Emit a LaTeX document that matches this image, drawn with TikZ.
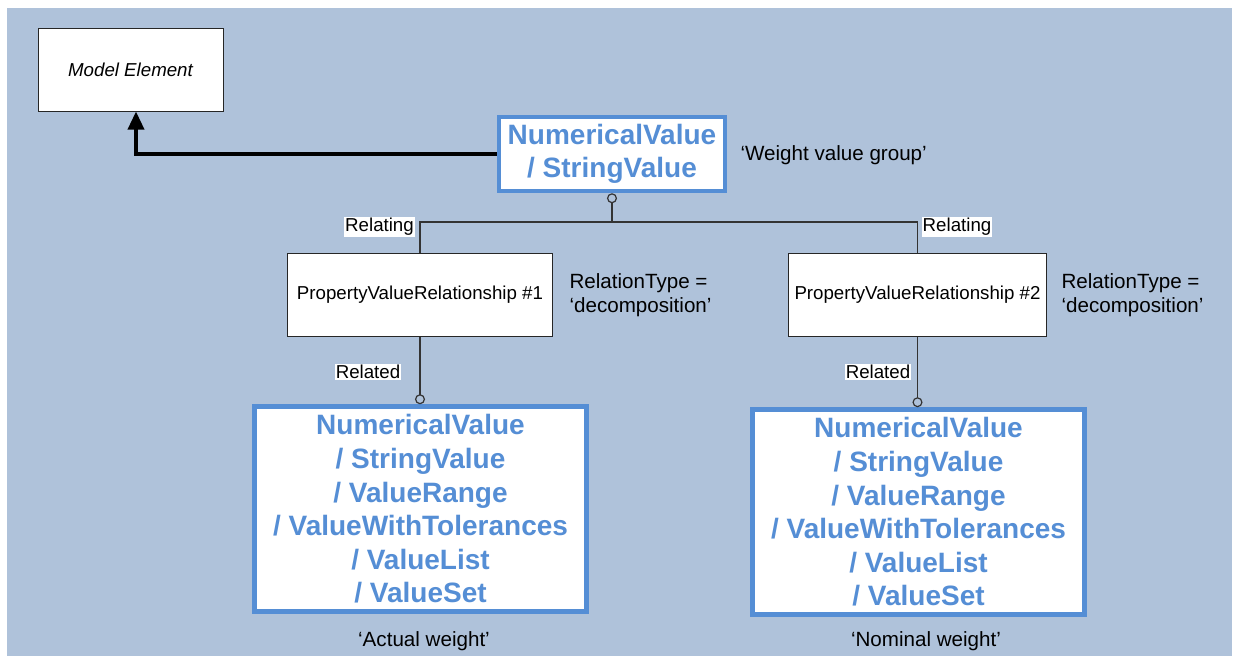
\documentclass[tikz,border=0pt]{standalone}
\usepackage{fontspec}
\setmainfont{Liberation Sans}
\usepackage{xcolor}
\usepackage{tikz}
\usetikzlibrary{positioning, arrows.meta, calc}
\definecolor{panelblue}{HTML}{AFC2DA}
\definecolor{ifcblue}{HTML}{558ED5}
\tikzset{
  plainbox/.style={draw=black!85, fill=white, line width=1pt, font=\fontsize{18.7}{22}\selectfont},
  valuebox/.style={draw=ifcblue, fill=white, line width=4.5pt, text=ifcblue, align=center,
                   font=\fontsize{28}{33.6}\selectfont\bfseries},
  rolelabel/.style={fill=white, inner sep=1pt, font=\fontsize{18.7}{22}\selectfont},
  note/.style={font=\fontsize{20.6}{24}\selectfont},
  conn/.style={draw=black!80, line width=1.2pt},
}

\begin{document}
\begin{tikzpicture}[x=1pt, y=-1pt]
    \useasboundingbox (0,0) rectangle (1233,659);
    \fill[panelblue] (7,8) rectangle (1232,656);

    % boxes
    \node[plainbox, minimum width=185pt, minimum height=83pt] (model) at (130.5,69.5) {\itshape Model Element};
    \node[valuebox, minimum width=226pt, minimum height=74pt] (group) at (612,154) {NumericalValue\\/ StringValue};
    \node[plainbox, minimum width=265pt, minimum height=83pt] (pvr1) at (420,295) {PropertyValueRelationship \#1};
    \node[plainbox, minimum width=258pt, minimum height=83pt] (pvr2) at (917.5,295) {PropertyValueRelationship \#2};
    \node[valuebox, minimum width=332pt, minimum height=205pt] (actual) at (420.5,509) {%
      NumericalValue\\/ StringValue\\/ ValueRange\\/ ValueWithTolerances\\/ ValueList\\/ ValueSet};
    \node[valuebox, minimum width=332pt, minimum height=205pt] (nominal) at (918.5,512) {%
      NumericalValue\\/ StringValue\\/ ValueRange\\/ ValueWithTolerances\\/ ValueList\\/ ValueSet};

    % notes
    \node[note, anchor=west] (grouplbl) at (737,155) {‘Weight value group’};
    \node[note, anchor=west, align=left] (type1) at (566,295) {RelationType =\\‘decomposition’};
    \node[note, anchor=west, align=left] (type2) at (1058,295) {RelationType =\\‘decomposition’};
    \node[note] (actuallbl) at (424,641) {‘Actual weight’};
    \node[note] (nominallbl) at (926,641) {‘Nominal weight’};

    % connectors
    \coordinate (split) at (612,222);
    \draw[line width=3.5pt, -{Triangle[width=16pt, length=18pt]}] (group.west) -| ([xshift=5.5pt]model.south);
    \draw[conn, {Circle[open, length=10pt]}-] (group.south) -- (split);
    \draw[conn] (pvr1.north) |- (split) -| (pvr2.north);
    \draw[conn, -{Circle[open, length=10pt]}] (pvr1.south) -- (pvr1.south |- actual.north);
    \draw[conn, -{Circle[open, length=10pt]}] (pvr2.south) -- (pvr2.south |- nominal.north);

    \node[rolelabel] (relating1) at (379.5,227) {Relating};
    \node[rolelabel] (relating2) at (957,227) {Relating};
    \node[rolelabel] (related1) at (368,372) {Related};
    \node[rolelabel] (related2) at (878,372) {Related};
\end{tikzpicture}
\end{document}
